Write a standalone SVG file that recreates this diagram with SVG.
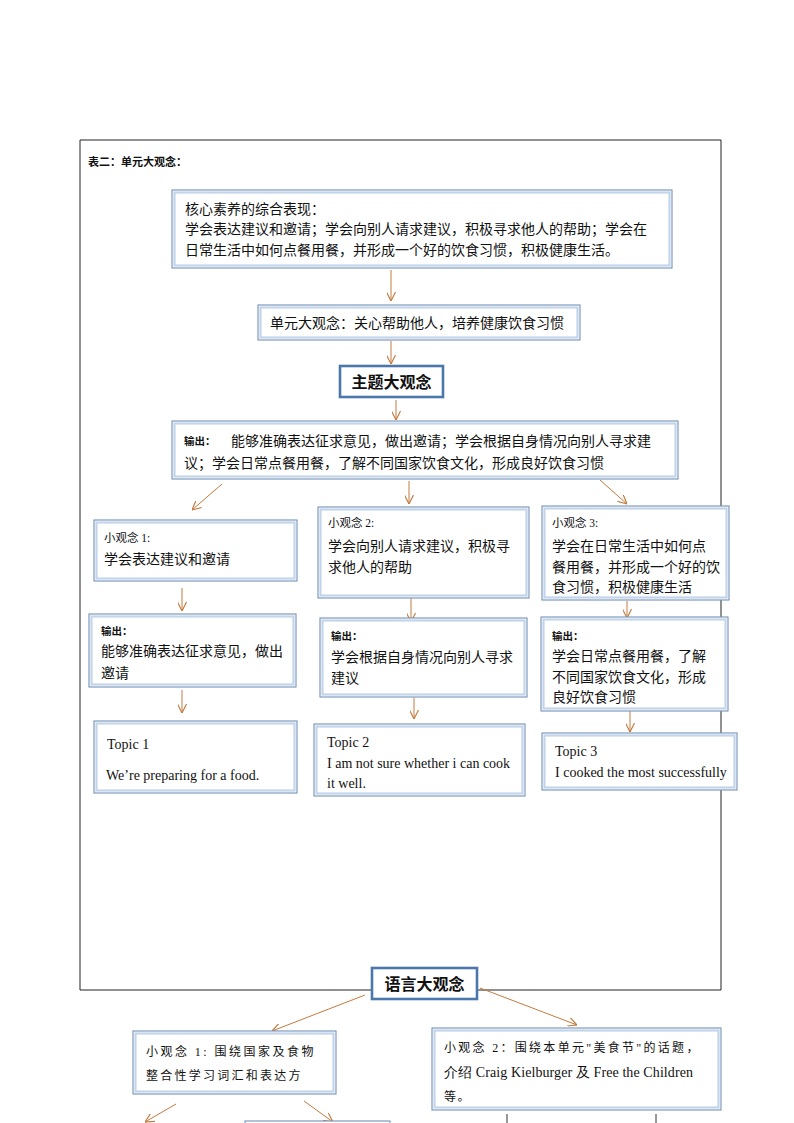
<svg xmlns="http://www.w3.org/2000/svg" width="794" height="1123" viewBox="0 0 794 1123">
<style>
.bo{fill:#fff;stroke:#7592b6;stroke-width:1.1}
.bi{fill:none;stroke:#c3d5ea;stroke-width:2.2}
.bt{fill:#fff;stroke:#4a78ad;stroke-width:2.6}
.t{font-family:"Noto Sans CJK SC","Liberation Sans",sans-serif;font-size:14px;fill:#111}
.s{font-family:"Liberation Serif","Noto Sans CJK SC",serif;font-size:11.5px;fill:#111}
.o{font-family:"Noto Sans CJK SC",sans-serif;font-size:10.5px;font-weight:bold;fill:#111}
.e{font-family:"Liberation Serif",serif;font-size:14px;fill:#111}
.h{font-family:"Noto Sans CJK SC",sans-serif;font-size:16px;font-weight:bold;fill:#111;text-anchor:middle}
.k{font-family:"Liberation Serif","Noto Sans CJK SC",serif;font-size:12px;fill:#111;letter-spacing:1.6px}
.c line{stroke:#c47a3e;stroke-width:1;marker-end:url(#ah)}
</style>
<defs>
<marker id="ah" viewBox="0 0 10 10" refX="10" refY="5" markerWidth="9" markerHeight="9" markerUnits="userSpaceOnUse" orient="auto">
<path d="M0,0 L10,5 L0,10" fill="none" stroke="#c47a3e" stroke-width="1.3"/>
</marker>
</defs>
<rect width="794" height="1123" fill="#fff"/>
<g id="frame"><path d="M80,140 H721 V990 H80 Z" fill="none" stroke="#222" stroke-width="1"/></g>
<text x="88" y="166" font-family="Noto Sans CJK SC,sans-serif" font-size="11" font-weight="bold" fill="#111">表二：单元大观念：</text>

<g class="c" id="connectors">
<line x1="391" y1="270" x2="391" y2="301"/>
<line x1="391" y1="341" x2="391" y2="364"/>
<line x1="396" y1="400" x2="396" y2="420"/>
<line x1="222" y1="484" x2="192" y2="510"/>
<line x1="409" y1="481" x2="409" y2="504"/>
<line x1="600" y1="480" x2="627" y2="504"/>
<line x1="182" y1="588" x2="182" y2="611"/>
<line x1="411" y1="598" x2="411" y2="622"/>
<line x1="627" y1="601" x2="627" y2="618"/>
<line x1="182" y1="690" x2="182" y2="713"/>
<line x1="414" y1="698" x2="414" y2="719"/>
<line x1="630" y1="711" x2="630" y2="732"/>
<line x1="365" y1="995" x2="272" y2="1031"/>
<line x1="480" y1="988" x2="577" y2="1025"/>
<line x1="176" y1="1104" x2="145" y2="1122"/>
<line x1="304" y1="1101" x2="333" y2="1122"/>
</g>

<g id="core">
<rect class="bo" x="172" y="190" width="500" height="78"/><rect class="bi" x="174.5" y="192.5" width="495" height="73"/>
<text class="t" x="185" y="214">核心素养的综合表现：</text>
<text class="t" x="185" y="234">学会表达建议和邀请；学会向别人请求建议，积极寻求他人的帮助；学会在</text>
<text class="t" x="185" y="255">日常生活中如何点餐用餐，并形成一个好的饮食习惯，积极健康生活。</text>
</g>
<g id="unit">
<rect class="bo" x="258" y="305" width="322" height="35"/><rect class="bi" x="260.5" y="307.5" width="317" height="30"/>
<text class="t" x="270" y="328">单元大观念：关心帮助他人，培养健康饮食习惯</text>
</g>
<g id="theme">
<rect class="bt" x="340" y="366" width="103" height="31"/>
<text class="h" x="391.5" y="388">主题大观念</text>
</g>
<g id="output">
<rect class="bo" x="172" y="421" width="506" height="58"/><rect class="bi" x="174.5" y="423.5" width="501" height="53"/>
<text class="o" x="184" y="445">输出：</text>
<text class="t" x="231" y="446">能够准确表达征求意见，做出邀请；学会根据自身情况向别人寻求建</text>
<text class="t" x="184" y="468">议；学会日常点餐用餐，了解不同国家饮食文化，形成良好饮食习惯</text>
</g>

<g id="idea1">
<rect class="bo" x="94" y="520" width="203" height="61"/><rect class="bi" x="96.5" y="522.5" width="198" height="56"/>
<text class="s" x="104" y="542">小观念 1:</text>
<text class="t" x="104" y="564">学会表达建议和邀请</text>
</g>
<g id="idea2">
<rect class="bo" x="318" y="507" width="211" height="91"/><rect class="bi" x="320.5" y="509.5" width="206" height="86"/>
<text class="s" x="328" y="527">小观念 2:</text>
<text class="t" x="328" y="551">学会向别人请求建议，积极寻</text>
<text class="t" x="328" y="572">求他人的帮助</text>
</g>
<g id="idea3">
<rect class="bo" x="542" y="506" width="187" height="94"/><rect class="bi" x="544.5" y="508.5" width="182" height="89"/>
<text class="s" x="552" y="527">小观念 3:</text>
<text class="t" x="552" y="551">学会在日常生活中如何点</text>
<text class="t" x="552" y="572">餐用餐，并形成一个好的饮</text>
<text class="t" x="552" y="592">食习惯，积极健康生活</text>
</g>

<g id="out1">
<rect class="bo" x="89" y="614" width="207" height="73"/><rect class="bi" x="91.5" y="616.5" width="202" height="68"/>
<text class="o" x="101" y="635">输出：</text>
<text class="t" x="101" y="656">能够准确表达征求意见，做出</text>
<text class="t" x="101" y="678">邀请</text>
</g>
<g id="out2">
<rect class="bo" x="320" y="618" width="207" height="79"/><rect class="bi" x="322.5" y="620.5" width="202" height="74"/>
<text class="o" x="331" y="640">输出：</text>
<text class="t" x="331" y="662">学会根据自身情况向别人寻求</text>
<text class="t" x="331" y="683">建议</text>
</g>
<g id="out3">
<rect class="bo" x="541" y="617" width="187" height="94"/><rect class="bi" x="543.5" y="619.5" width="182" height="89"/>
<text class="o" x="552" y="640">输出：</text>
<text class="t" x="552" y="661">学会日常点餐用餐，了解</text>
<text class="t" x="552" y="682">不同国家饮食文化，形成</text>
<text class="t" x="552" y="702">良好饮食习惯</text>
</g>

<g id="topic1">
<rect class="bo" x="94" y="721" width="203" height="72"/><rect class="bi" x="96.5" y="723.5" width="198" height="67"/>
<text class="e" x="107" y="749">Topic 1</text>
<text class="e" x="106" y="780">We’re preparing for a food.</text>
</g>
<g id="topic2">
<rect class="bo" x="314" y="724" width="211" height="72"/><rect class="bi" x="316.5" y="726.5" width="206" height="67"/>
<text class="e" x="327" y="747">Topic 2</text>
<text class="e" x="327" y="768">I am not sure whether i can cook</text>
<text class="e" x="327" y="788">it well.</text>
</g>
<g id="topic3">
<rect class="bo" x="542" y="733" width="195" height="57"/><rect class="bi" x="544.5" y="735.5" width="190" height="52"/>
<text class="e" x="555" y="756">Topic 3</text>
<text class="e" x="555" y="777">I cooked the most successfully</text>
</g>

<g id="language">
<rect class="bt" x="372" y="968" width="105" height="31"/>
<text class="h" x="424.5" y="990">语言大观念</text>
</g>
<g id="lang1">
<rect class="bo" x="133" y="1031" width="203" height="63"/><rect class="bi" x="135.5" y="1033.5" width="198" height="58"/>
<text class="k" x="146" y="1056" textLength="169">小观念 1:   围绕国家及食物</text>
<text class="k" x="146" y="1080" textLength="156">整合性学习词汇和表达方</text>
</g>
<g id="lang2">
<rect class="bo" x="432" y="1028" width="289" height="82"/><rect class="bi" x="434.5" y="1030.5" width="284" height="77"/>
<text class="k" x="444" y="1052" textLength="256">小观念 2：围绕本单元"美食节"的话题，</text>
<text class="e" x="444" y="1077" textLength="249">介绍 Craig Kielburger 及 Free the Children</text>
<text class="k" x="444" y="1101">等。</text>
</g>
<g id="partial">
<rect class="bo" x="245" y="1121" width="145" height="10"/>
<line x1="507" y1="1114" x2="507" y2="1123" stroke="#333" stroke-width="1"/>
<line x1="656" y1="1114" x2="656" y2="1123" stroke="#333" stroke-width="1"/>
</g>
</svg>
